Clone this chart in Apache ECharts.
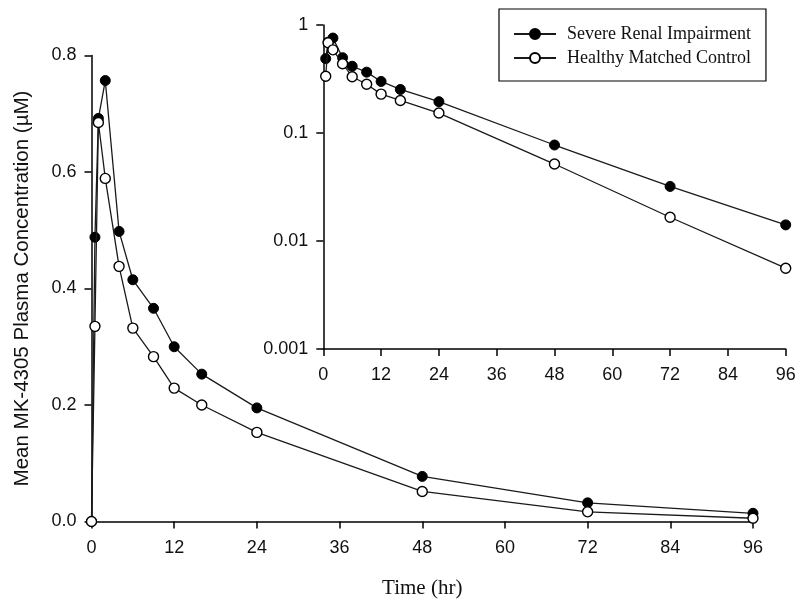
<!DOCTYPE html>
<html>
<head>
<meta charset="utf-8">
<script src="https://cdn.jsdelivr.net/npm/echarts@6/dist/echarts.min.js"></script>
<style>
  html, body { margin: 0; padding: 0; background: #fff; }
  #chart { width: 797px; height: 601px; }
</style>
</head>
<body>
<div id="chart"></div>
<script>
// Sampling times (hr) and mean plasma concentrations (µM)
const times = [0, 0.5, 1, 2, 4, 6, 9, 12, 16, 24, 48, 72, 96];
const severeRenal = [0, 0.488, 0.692, 0.757, 0.498, 0.415, 0.366, 0.300, 0.253, 0.195, 0.0774, 0.032, 0.0141];
const healthyControl = [0, 0.335, 0.685, 0.589, 0.438, 0.332, 0.283, 0.229, 0.200, 0.153, 0.0516, 0.0166, 0.0056];

const logTicks = [0.001, 0.01, 0.1, 1];

const seriesNames = ['Severe Renal Impairment', 'Healthy Matched Control'];

const sans = "'Liberation Sans', Arial, sans-serif";
const serif = "'Liberation Serif', 'Times New Roman', serif";

function pairs(values, positiveOnly) {
  const out = [];
  times.forEach((t, i) => {
    if (!positiveOnly || values[i] > 0) out.push([t, values[i]]);
  });
  return out;
}

const axisLine = { show: true, onZero: false, lineStyle: { color: '#000', width: 1.5 } };
const axisTick = { show: true, inside: false, length: 7, lineStyle: { color: '#000', width: 1.5 } };
const tickLabel = { color: '#111', fontFamily: sans, fontSize: 18 };

const lineStyle = { color: '#1a1a1a', width: 1.3 };
const filledStyle = { color: '#000', borderColor: '#000', borderWidth: 1 };
const openStyle = { color: '#fff', borderColor: '#000', borderWidth: 1.4 };

function makeSeries(name, values, axisIdx, style, positiveOnly, z) {
  return {
    name: name,
    type: 'line',
    xAxisIndex: axisIdx,
    yAxisIndex: axisIdx,
    data: pairs(values, positiveOnly),
    symbol: 'circle',
    symbolSize: 10,
    showAllSymbol: true,
    lineStyle: lineStyle,
    itemStyle: style,
    emphasis: { disabled: true },
    animation: false,
    z: z
  };
}

const chart = echarts.init(document.getElementById('chart'), null, { renderer: 'canvas' });

chart.setOption({
  backgroundColor: '#fff',
  animation: false,
  grid: [
    { left: 91.5, top: 55.5, right: 44, bottom: 79.5, containLabel: false, outerBoundsMode: 'none' },
    { left: 323.3, top: 25, right: 11.3, bottom: 252, containLabel: false, outerBoundsMode: 'none' }
  ],
  legend: {
    orient: 'vertical',
    left: 499,
    top: 9,
    padding: [16, 15, 14, 14],
    itemGap: 6,
    itemWidth: 42,
    itemHeight: 12.5,
    borderColor: '#000',
    borderWidth: 1.2,
    backgroundColor: '#fff',
    selectedMode: false,
    data: seriesNames,
    textStyle: { fontFamily: serif, fontSize: 18, color: '#111', padding: [0, 0, 0, 6] }
  },
  xAxis: [
    {
      gridIndex: 0, type: 'value', min: 0, max: 96, interval: 12,
      axisLine: axisLine, axisTick: axisTick, splitLine: { show: false },
      axisLabel: Object.assign({ margin: 18 }, tickLabel),
      name: 'Time (hr)', nameLocation: 'middle', nameGap: 56,
      nameTextStyle: { fontFamily: serif, fontSize: 21, color: '#111' }
    },
    {
      gridIndex: 1, type: 'value', min: 0, max: 96, interval: 12,
      axisLine: axisLine, axisTick: axisTick, splitLine: { show: false },
      axisLabel: Object.assign({ margin: 17 }, tickLabel)
    }
  ],
  yAxis: [
    {
      gridIndex: 0, type: 'value', min: 0, max: 0.8, interval: 0.2,
      axisLine: axisLine, axisTick: axisTick, splitLine: { show: false },
      axisLabel: Object.assign({ margin: 15, formatter: v => v.toFixed(1) }, tickLabel),
      name: 'Mean MK-4305 Plasma Concentration (µM)', nameLocation: 'middle', nameGap: 59,
      nameTextStyle: { fontFamily: sans, fontSize: 20.5, color: '#111' }
    },
    {
      gridIndex: 1, type: 'log', logBase: 10, min: logTicks[0], max: logTicks[logTicks.length - 1],
      axisLine: axisLine, axisTick: axisTick, splitLine: { show: false }, minorTick: { show: false },
      axisLabel: Object.assign({
        margin: 15,
        formatter: v => {
          const match = logTicks.find(t => Math.abs(Math.log10(t) - Math.log10(v)) < 1e-6);
          return match === undefined ? '' : String(match);
        }
      }, tickLabel)
    }
  ],
  series: [
    makeSeries(seriesNames[0], severeRenal, 0, filledStyle, false, 2),
    makeSeries(seriesNames[1], healthyControl, 0, openStyle, false, 3),
    makeSeries(seriesNames[0], severeRenal, 1, filledStyle, true, 2),
    makeSeries(seriesNames[1], healthyControl, 1, openStyle, true, 3)
  ]
});
</script>
</body>
</html>
